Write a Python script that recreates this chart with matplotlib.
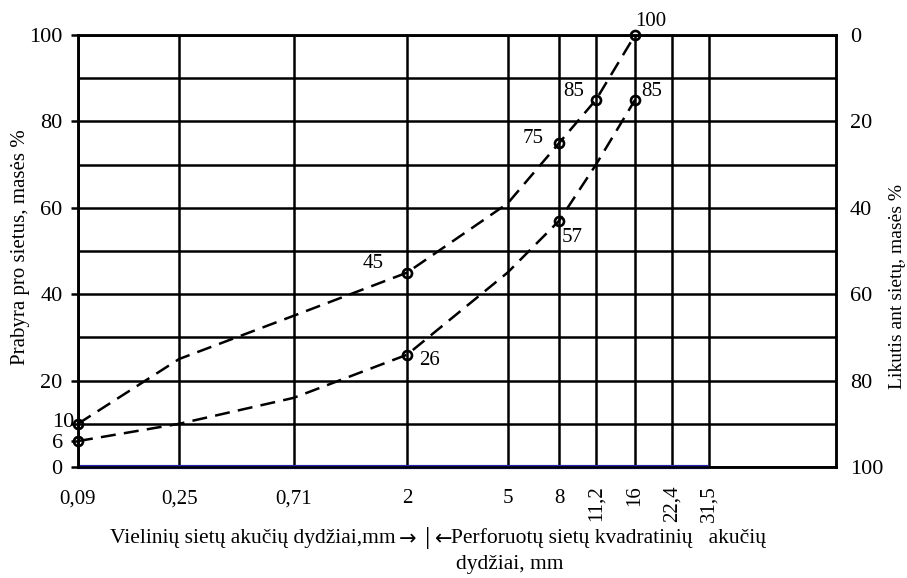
import matplotlib
matplotlib.use('Agg')
import numpy as np
import matplotlib.pyplot as plt
from matplotlib.ticker import NullLocator, MultipleLocator
from matplotlib.transforms import ScaledTranslation

plt.rcParams['font.family'] = ['Liberation Serif', 'DejaVu Serif']

# ---- data ----
sieve_sizes = [0.09, 0.25, 0.71, 2, 5, 8, 11.2, 16, 22.4, 31.5]
sieve_labels = ['0,09', '0,25', '0,71', '2', '5', '8', '11,2', '16', '22,4', '31,5']
curve_sizes = [0.09, 0.25, 0.71, 2, 5, 8, 11.2, 16]
upper_pass = [10, 25, 35, 45, 61, 75, 85, 100]
lower_pass = [6, 10, 16, 26, 45, 57, 70, 85]
upper_marked = [0, 3, 5, 6, 7]
lower_marked = [0, 3, 5, 7]
left_ticks = [0, 6, 10, 20, 40, 60, 80, 100]
right_ticks = [0, 20, 40, 60, 80, 100]
x_max = 100

# log scale whose first (wire-sieve) interval is drawn slightly compressed
_brk = np.log(0.25)
_c = 0.903


def fwd(x):
    lx = np.log(np.clip(np.asarray(x, float), 1e-9, None))
    return np.where(lx < _brk, _brk + (lx - _brk) * _c, lx)


def inv(y):
    y = np.asarray(y, float)
    return np.where(y < _brk, np.exp(_brk + (y - _brk) / _c), np.exp(y))


W, H = 907, 578
fig = plt.figure(figsize=(W / 100, H / 100), dpi=100)
ax = fig.add_axes([78 / W, (H - 467) / H, (836 - 78) / W, (467 - 35) / H])

ax.set_xscale('function', functions=(fwd, inv))
ax.set_xlim(sieve_sizes[0], x_max)
ax.set_ylim(0, 100)

ax.set_xticks(sieve_sizes, sieve_labels)
ax.xaxis.set_minor_locator(NullLocator())
ax.set_yticks(left_ticks, [str(v) for v in left_ticks])
ax.yaxis.set_minor_locator(MultipleLocator(10))
ax.yaxis.remove_overlapping_locs = False

LW = 1.8
ax.grid(axis='y', which='minor', color='black', lw=LW)
ax.grid(axis='x', which='major', color='black', lw=LW)
ax.set_axisbelow(True)
ax.tick_params(axis='y', which='minor', length=0)
ax.tick_params(axis='y', which='major', length=5, width=LW, pad=6, labelsize=16)
ax.tick_params(axis='x', which='major', length=0, pad=13, labelsize=15)
for i, t in enumerate(ax.yaxis.get_major_ticks()):
    if left_ticks[i] != 100:
        t.tick1line.set_visible(False)
for i, lbl in enumerate(ax.get_yticklabels()):
    if left_ticks[i] == 10:
        lbl.set_transform(lbl.get_transform() + ScaledTranslation(0.12, 0.04, fig.dpi_scale_trans))

n_flat = 6
for i, lbl in enumerate(ax.get_xticklabels()):
    if i < n_flat:
        lbl.set_transform(lbl.get_transform() + ScaledTranslation(0, -4 / 100, fig.dpi_scale_trans))
    else:
        lbl.set_rotation(90)
        lbl.set_va('top')
        lbl.set_ha('center')

for s in ax.spines.values():
    s.set_linewidth(LW)
    s.set_color('black')

dash = (0, (6, 3.3))
for vals, marks in ((upper_pass, upper_marked), (lower_pass, lower_marked)):
    ax.plot(curve_sizes, vals, color='black', lw=LW, ls=dash, marker='o',
            markevery=marks, ms=6.5, mfc='none', mec='black', mew=1.9,
            clip_on=False, zorder=5)

ax.hlines(0, sieve_sizes[0], sieve_sizes[-1], color='#2424a6', lw=3,
          clip_on=False, zorder=6)

# value annotations (offsets in points)
upper_notes = {3: (-24.5, 6.5), 5: (-18.7, 2.9), 6: (-15.8, 5.8), 7: (11.5, 9.4)}
lower_notes = {3: (15.8, -4.3), 5: (9.4, -12.2), 7: (12.2, 5.8)}
for vals, notes in ((upper_pass, upper_notes), (lower_pass, lower_notes)):
    for idx, off in notes.items():
        ax.annotate(str(vals[idx]), (curve_sizes[idx], vals[idx]),
                    xytext=off, textcoords='offset points', ha='center', va='center',
                    fontsize=15, annotation_clip=False)

ax2 = ax.twinx()
ax2.set_ylim(100, 0)
ax2.set_yticks(right_ticks, [str(v) for v in right_ticks])
ax2.tick_params(axis='y', length=0, pad=10, labelsize=16)
for s in ax2.spines.values():
    s.set_linewidth(LW)
    s.set_color('black')

fig.text(21 / W, 1 - 247 / H, 'Prabyra pro sietus, masės %', rotation=90,
         ha='center', va='center', fontsize=15)
fig.text(897 / W, 1 - 287 / H, 'Likutis ant sietų, masės %', rotation=90,
         ha='center', va='center', fontsize=14)

yl1 = 1 - 538 / H
fig.text(396 / W, yl1, 'Vielinių sietų akučių dydžiai,mm', ha='right', va='center', fontsize=15.5)
fig.text(408 / W, yl1 - 1 / H, '→', ha='center', va='center', fontsize=15,
         family=['DejaVu Sans'])
fig.text(428 / W, yl1, '|', ha='center', va='center', fontsize=19)
fig.text(444 / W, yl1 - 1 / H, '←', ha='center', va='center', fontsize=15,
         family=['DejaVu Sans'])
fig.text(451 / W, yl1, 'Perforuotų sietų kvadratinių   akučių', ha='left', va='center', fontsize=15.5)
fig.text(456 / W, 1 - 565 / H, 'dydžiai, mm', ha='left', va='center', fontsize=15.5)

fig.savefig('out.png', dpi=100)
